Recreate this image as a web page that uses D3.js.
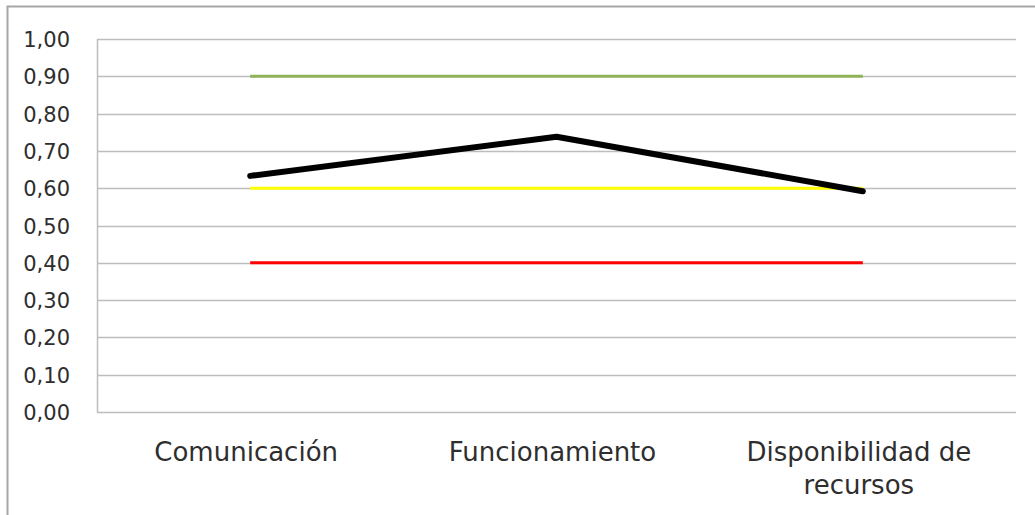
<!DOCTYPE html>
<html><head><meta charset="utf-8">
<script src="https://cdn.jsdelivr.net/npm/d3@7"></script>
<style>body{margin:0;background:#fff}</style>
</head><body>
<svg id="c" width="1035" height="515"></svg>
<script>
const categories = [["Comunicación"], ["Funcionamiento"], ["Disponibilidad de", "recursos"]];
const catKeys = ["Comunicación", "Funcionamiento", "Disponibilidad de recursos"];
const scoreValues = [0.633, 0.738, 0.592];
const highRef = [0.90, 0.90, 0.90];
const midRef = [0.60, 0.60, 0.60];
const lowRef = [0.40, 0.40, 0.40];
const yTicks = [0, 0.1, 0.2, 0.3, 0.4, 0.5, 0.6, 0.7, 0.8, 0.9, 1.0];

const svg = d3.select("#c");
const font = "'DejaVu Sans', Verdana, sans-serif";
// outer frame
svg.append("path").attr("d", "M7.5,520 L7.5,6.5 L1040,6.5").attr("fill", "none").attr("stroke", "#a6a6a6").attr("stroke-width", 2);

const L = 97, R = 1016, T = 39, B = 412;
const x = d3.scaleBand().domain(catKeys).range([L, R]);
const y = d3.scaleLinear().domain([0, 1]).range([B, T]);

// gridlines
svg.append("g").selectAll("line").data(yTicks).join("line")
  .attr("x1", L).attr("x2", R).attr("y1", d => Math.round(y(d)) + 0.5).attr("y2", d => Math.round(y(d)) + 0.5)
  .attr("stroke", "#bdbdbd").attr("stroke-width", 1.5);
// left axis line
svg.append("line").attr("x1", L + 0.5).attr("x2", L + 0.5).attr("y1", T).attr("y2", B + 0.5).attr("stroke", "#bdbdbd").attr("stroke-width", 1.5);

const yAxis = d3.axisLeft(y).tickValues(yTicks).tickSize(0).tickPadding(0)
  .tickFormat(d => d3.format(".2f")(d).replace(".", ","));
const ya = svg.append("g").attr("transform", `translate(${L - 27},0)`).call(yAxis);
ya.select(".domain").remove();
ya.selectAll("text").attr("font-family", font).attr("font-size", 21).attr("fill", "#2e2e2e").attr("dy", "0.36em");

// x labels
const xl = svg.append("g");
categories.forEach((lines, i) => {
  const cx = x(catKeys[i]) + x.bandwidth() / 2 - 4;
  const t = xl.append("text").attr("x", cx).attr("y", 461)
    .attr("text-anchor", "middle").attr("font-family", font).attr("font-size", 26).attr("fill", "#2e2e2e");
  lines.forEach((ln, j) => t.append("tspan").attr("x", cx).attr("dy", j ? 33 : 0).text(ln));
});

const line = d3.line().x((d, i) => x(catKeys[i]) + x.bandwidth() / 2).y(d => y(d));
[[highRef, "#8fb356", 3], [midRef, "#ffff00", 3], [lowRef, "#ff0000", 3]].forEach(([data, c, w]) => {
  svg.append("path").attr("d", line(data)).attr("fill", "none").attr("stroke", c).attr("stroke-width", w);
});
svg.append("path").attr("d", line(scoreValues)).attr("fill", "none").attr("stroke", "#000")
  .attr("stroke-width", 6).attr("stroke-linecap", "round").attr("stroke-linejoin", "round");
</script>
</body></html>
